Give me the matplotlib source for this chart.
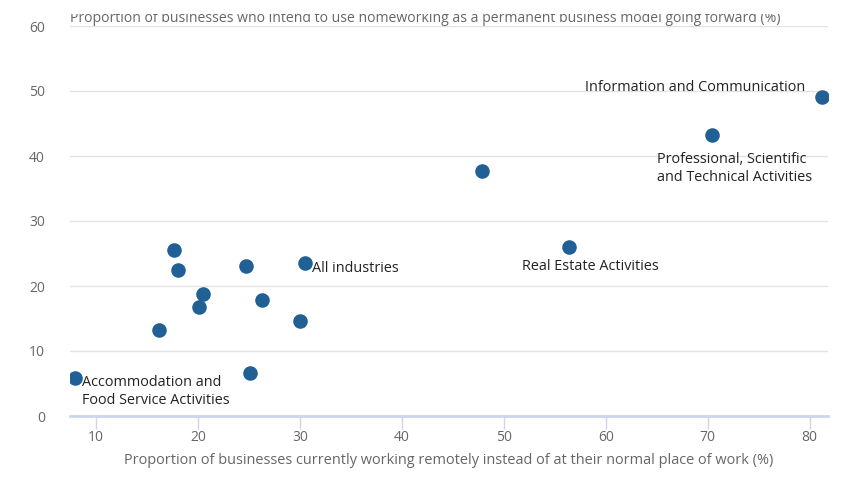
import matplotlib
matplotlib.use("Agg")
from matplotlib import pyplot as plt
from matplotlib.transforms import Bbox

plt.rcParams['font.family'] = ['Open Sans', 'DejaVu Sans']

# remote working now (%) vs intend to keep homeworking (%)
remote = [7.9, 25.1, 16.2, 20.1, 20.5, 17.7, 18.0, 24.7, 26.3, 30.0, 30.5, 47.9, 56.4, 70.4, 81.2]
homework = [5.9, 6.6, 13.2, 16.8, 18.8, 25.5, 22.5, 23.1, 17.8, 14.6, 23.5, 37.7, 26.0, 43.2, 49.1]
labels = ["Accommodation and\nFood Service Activities", "", "", "", "", "", "", "", "", "",
          "All industries", "", "Real Estate Activities",
          "Professional, Scientific\nand Technical Activities", "Information and Communication"]

xticks = [10, 20, 30, 40, 50, 60, 70, 80]
yticks = [0, 10, 20, 30, 40, 50, 60]

# label placement, offsets in pixels
offsets = {
    0: ((7, -14), "left"),
    10: ((7, -5), "left"),
    12: ((-47, -19), "left"),
    13: ((-55, -33), "left"),
    14: ((-17, 9), "right"),
}

fig = plt.figure(figsize=(8.68, 4.88), dpi=100)
ax = fig.add_axes([70 / 868, 72 / 488, 758 / 868, 390 / 488])

ax.scatter(remote, homework, s=110, color="#206095", zorder=3, linewidths=0)

for i, lab in enumerate(labels):
    if lab:
        off, ha = offsets[i]
        ax.annotate(lab, (remote[i], homework[i]), xytext=off, textcoords="offset pixels",
                    ha=ha, va="center", fontsize=10.4, color="#222222", linespacing=1.3)

ax.set_xlim(7.45, 81.8)
ax.set_ylim(0, 60)
ax.set_xticks(xticks)
ax.set_yticks(yticks)
ax.grid(axis="y", color="#e2e2e2", linewidth=1)
ax.set_axisbelow(True)
for side in ["top", "right", "left"]:
    ax.spines[side].set_visible(False)
ax.spines["bottom"].set_color("#ccd6eb")
ax.spines["bottom"].set_linewidth(2)
ax.spines["bottom"].set_zorder(2)
ax.tick_params(axis="x", colors="#ccd6eb", length=9, width=1, labelcolor="#666666", labelsize=10, pad=1)
ax.tick_params(axis="y", length=0, labelcolor="#666666", labelsize=10, pad=18)

ax.set_xlabel("Proportion of businesses currently working remotely instead of at their normal place of work (%)",
              fontsize=10.45, color="#666666", labelpad=6)
title = ax.text(0, 60.6, "Proportion of businesses who intend to use homeworking as a permanent business model going forward (%)",
                transform=ax.get_yaxis_transform(), fontsize=10.05, color="#666666", ha="left", va="baseline")
# the title is cut off at the top in the original
title.set_clip_box(Bbox([[0, 0], [868, 488 - 14]]))
title.set_clip_on(True)

plt.savefig("out.png", dpi=100)
